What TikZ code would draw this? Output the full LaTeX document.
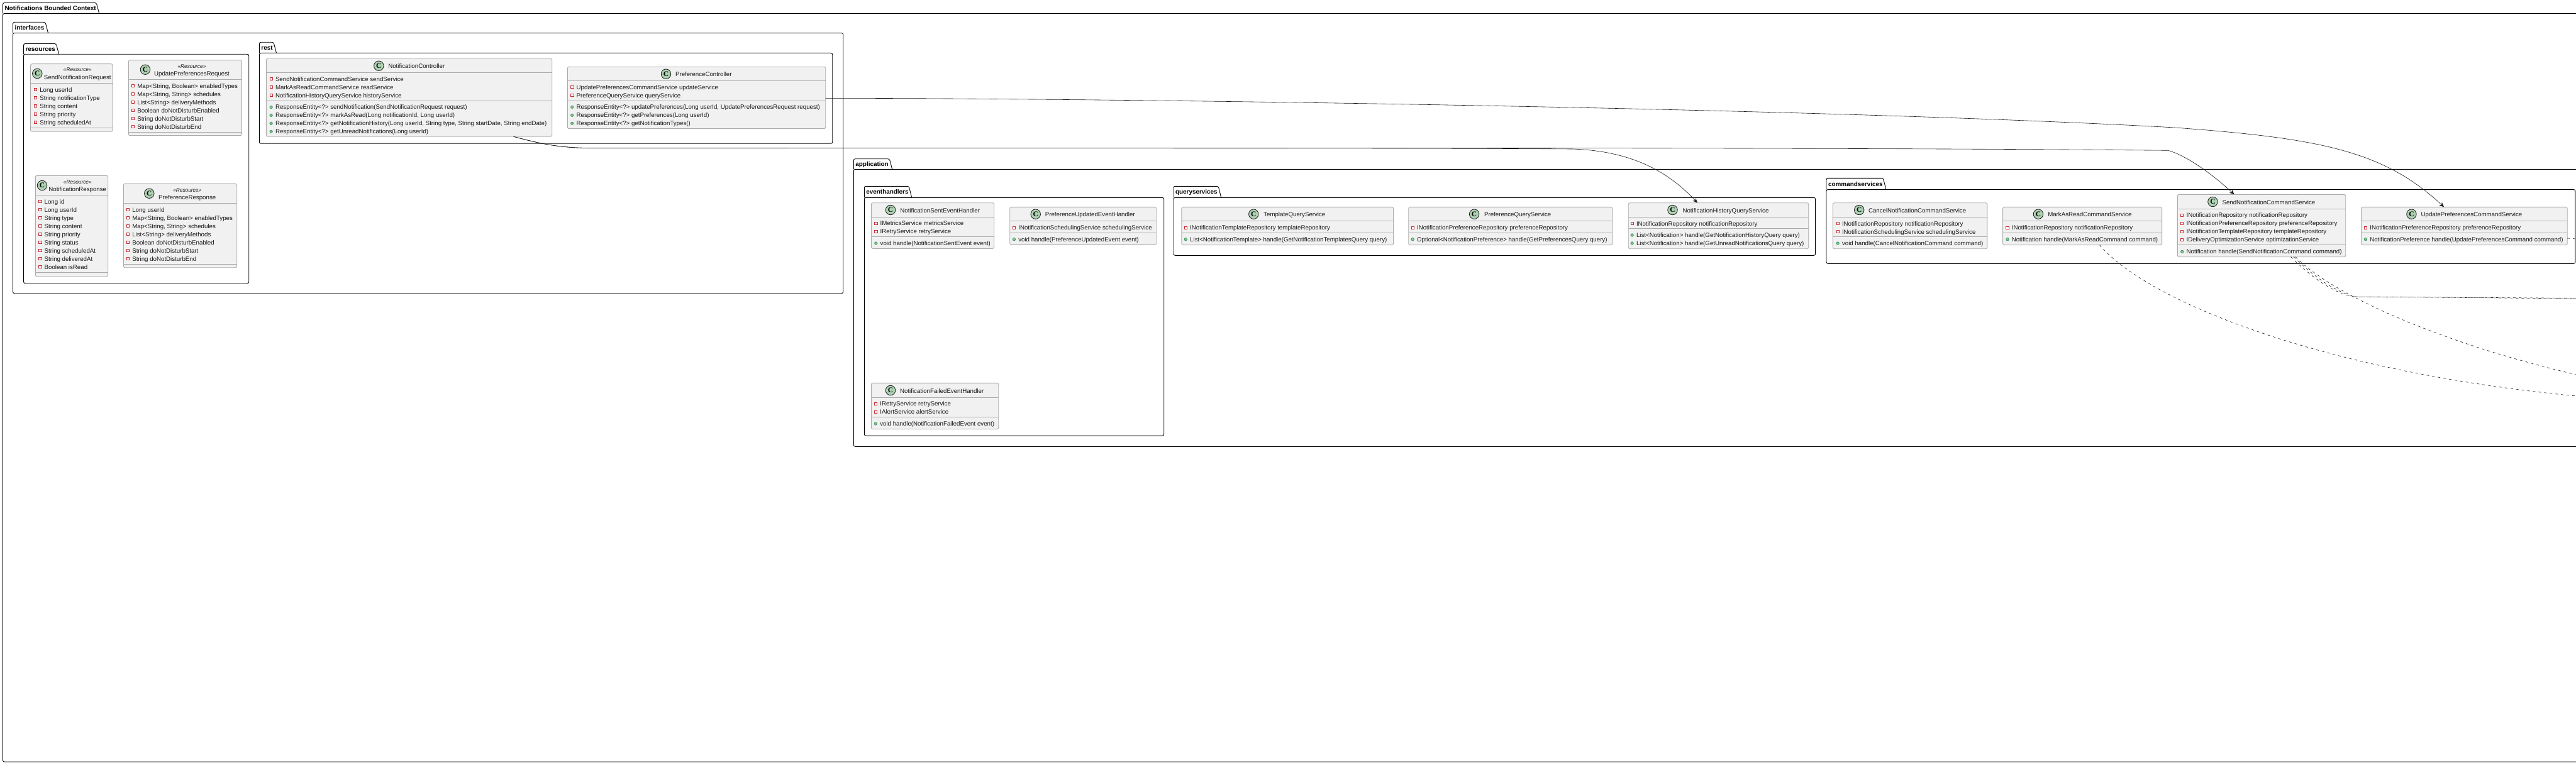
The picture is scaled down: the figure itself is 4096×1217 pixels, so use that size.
\documentclass[tikz,border=0pt]{standalone}
\usepackage{fontspec}
\setmainfont{Liberation Sans}
\newfontfamily\circfont{Liberation Serif}
\usetikzlibrary{arrows.meta}
\definecolor{boxfill}{HTML}{F1F1F1}
\definecolor{boxline}{HTML}{ABABAB}
\definecolor{inkline}{HTML}{181818}
\definecolor{circfill}{HTML}{ADD1B2}
\definecolor{pvline}{HTML}{C82930}
\definecolor{pbfill}{HTML}{84BE84}
\definecolor{pbline}{HTML}{038048}
\tikzset{
  x=1pt,y=-1pt,
  pkgbody/.style={draw=black,line width=0.9pt,rounded corners=2.5pt,inner sep=0,outer sep=0,fill=white},
  pkgtab/.style={draw=black,line width=0.9pt,rounded corners=2.5pt},
  pkgtitle/.style={inner sep=0,outer sep=0,anchor=base west,font=\fontsize{9.9}{12}\selectfont\bfseries},
  clsbody/.style={draw=boxline,line width=0.9pt,fill=boxfill,rounded corners=2.5pt,inner sep=0,outer sep=0},
  clssep/.style={draw=boxline,line width=0.9pt},
  clsname/.style={inner sep=0,outer sep=0,anchor=base,font=\fontsize{9.7}{12}\selectfont,text=inkline},
  clsster/.style={inner sep=0,outer sep=0,anchor=base,font=\fontsize{8.3}{10}\selectfont\itshape,text=inkline},
  circmark/.style={circle,draw=inkline,line width=0.8pt,fill=circfill,minimum size=15.5pt,inner sep=0,outer sep=0,font=\fontsize{11.5}{12}\selectfont\circfont\bfseries},
  rowtext/.style={inner sep=0,outer sep=0,anchor=base west,font=\fontsize{9.7}{12}\selectfont,text=inkline},
  pvmark/.style={rectangle,draw=pvline,line width=0.7pt,fill=white,minimum size=4.2pt,inner sep=0,outer sep=0},
  pbmark/.style={circle,draw=pbline,line width=0.4pt,fill=pbfill,minimum size=4.6pt,inner sep=0,outer sep=0},
  dep/.style={draw=inkline,line width=0.6pt,-{Stealth[length=7.5pt,width=6.5pt,inset=2.5pt]}},
  usedep/.style={draw=inkline,line width=0.6pt,dash pattern=on 4pt off 5pt},
}
% id x1 tabtop tabright rule x2 bottom title
\newcommand\pkgframe[8]{%
  \node[pkgbody,minimum width={(#6-#2)*1pt},minimum height={(#7-#5)*1pt}] (#1) at ({(#2+#6)/2},{(#5+#7)/2}) {};
  \draw[pkgtab] (#2,#5) -- (#2,#3) -- (#4-4.5,#3) -- (#4,#5);
  \node[pkgtitle] (#1-title) at (#2+3.1,{(#3+#5)/2+3.6}) {#8};
}
% id x1 y1 x2 y2 sep1 sep2
\newcommand\clsframe[7]{%
  \node[clsbody,minimum width={(#4-#2)*1pt},minimum height={(#5-#3)*1pt}] (#1) at ({(#2+#4)/2},{(#3+#5)/2}) {};
  \draw[clssep] (#2,#6) -- (#4,#6);
  \draw[clssep] (#2,#7) -- (#4,#7);
}
% id circx circy namecx namey name
\newcommand\clshead[6]{%
  \node[circmark] (#1-circ) at (#2,#3) {C};
  \node[clsname] (#1-name) at (#4,#5+3.5) {#6};
}
% id cx y
\newcommand\clsstereo[3]{%
  \node[clsster] (#1-st) at (#2,#3+3) {«Resource»};
}
% id textx y0 list
\newcommand\pvrows[4]{%
  \foreach \rowtxt [count=\ri] in {#4} {
    \pgfmathsetmacro\ry{#3+13*(\ri-1)}
    \node[pvmark] (#1-pvm\ri) at (#2-6.9,\ry) {};
    \node[rowtext] (#1-pv\ri) at (#2,\ry+3.5) {\rowtxt};
  }%
}
\newcommand\pbrows[4]{%
  \foreach \rowtxt [count=\ri] in {#4} {
    \pgfmathsetmacro\ry{#3+13*(\ri-1)}
    \node[pbmark] (#1-pbm\ri) at (#2-6.9,\ry) {};
    \node[rowtext] (#1-pb\ri) at (#2,\ry+3.5) {\rowtxt};
  }%
}
\begin{document}
\begin{tikzpicture}
\useasboundingbox (0,0) rectangle (4096,1217);
\fill[white] (0,0) rectangle (4096,1217);
\clip (0,0) rectangle (4096,1217);

% packages
\pkgframe{ctx}{4.5}{4.5}{157.7}{21.5}{4300}{1212}{Notifications Bounded Context}
\pkgframe{ifc}{20.5}{35.3}{76.5}{52.5}{1340.7}{466.7}{interfaces}
\pkgframe{res}{37.5}{69.5}{93.7}{86.3}{395.7}{450.7}{resources}
\pkgframe{rst}{412.3}{67.3}{439.5}{84.3}{1323.7}{228.3}{rest}
\pkgframe{app}{1357.3}{252.7}{1418.7}{269.3}{4300}{710.3}{application}
\pkgframe{evh}{1374.3}{296.3}{1449.7}{314.3}{1850.7}{693.3}{eventhandlers}
\pkgframe{qry}{1866}{296.3}{1941.7}{314.3}{2886.6}{406.3}{queryservices}
\pkgframe{cmd}{2904}{283.3}{2998.8}{301.5}{4094.8}{419.3}{commandservices}

% interfaces.resources
\clsframe{snr}{48.5}{101.7}{179.3}{209.3}{132.3}{203.3}
\clshead{snr}{59.3}{117}{123.3}{123.5}{SendNotificationRequest}
\clsstereo{snr}{123.3}{111}
\pvrows{snr}{63.3}{142.7}{Long userId,String notificationType,String content,String priority,String scheduledAt}

\clsframe{upr}{204.3}{95.7}{384.3}{215.7}{126.3}{210.3}
\clshead{upr}{231}{110.7}{305}{117}{UpdatePreferencesRequest}
\clsstereo{upr}{305}{105.3}
\pvrows{upr}{218.3}{136.7}{{Map<String, Boolean> enabledTypes},{Map<String, String> schedules},List<String> deliveryMethods,Boolean doNotDisturbEnabled,String doNotDisturbStart,String doNotDisturbEnd}

\clsframe{nrs}{56.3}{279.3}{171.7}{439.7}{310.3}{433.3}
\clshead{nrs}{67}{295}{123.3}{301.3}{NotificationResponse}
\clsstereo{nrs}{123.3}{289.3}
\pvrows{nrs}{70.7}{320.7}{Long id,Long userId,String type,String content,String priority,String status,String scheduledAt,String deliveredAt,Boolean isRead}

\clsframe{prs}{196.3}{292.3}{376.7}{425.7}{323.3}{420.3}
\clshead{prs}{237.3}{307.7}{297.7}{314}{PreferenceResponse}
\clsstereo{prs}{297.7}{302}
\pvrows{prs}{210.3}{333.7}{Long userId,{Map<String, Boolean> enabledTypes},{Map<String, String> schedules},List<String> deliveryMethods,Boolean doNotDisturbEnabled,String doNotDisturbStart,String doNotDisturbEnd}

% interfaces.rest
\clsframe{nct}{423.3}{93.3}{877.7}{217.3}{115.7}{160.3}
\clshead{nct}{602.3}{104.7}{662.3}{105}{NotificationController}
\pvrows{nct}{438}{125.7}{SendNotificationCommandService sendService,MarkAsReadCommandService readService,NotificationHistoryQueryService historyService}
\pbrows{nct}{438}{170.3}{ResponseEntity<?> sendNotification(SendNotificationRequest request),{ResponseEntity<?> markAsRead(Long notificationId, Long userId)},{ResponseEntity<?> getNotificationHistory(Long userId, String type, String startDate, String endDate)},ResponseEntity<?> getUnreadNotifications(Long userId)}

\clsframe{pct}{902.3}{106.3}{1312.7}{204.7}{128.7}{160.3}
\clshead{pct}{1059}{117.7}{1118.8}{118}{PreferenceController}
\pvrows{pct}{916.7}{138.7}{UpdatePreferencesCommandService updateService,PreferenceQueryService queryService}
\pbrows{pct}{916.7}{170.3}{{ResponseEntity<?> updatePreferences(Long userId, UpdatePreferencesRequest request)},ResponseEntity<?> getPreferences(Long userId),ResponseEntity<?> getNotificationTypes()}

% application.eventhandlers
\clsframe{nse}{1385.3}{322.7}{1580.7}{395.3}{345.3}{376.3}
\clshead{nse}{1416}{334}{1494.7}{334.7}{NotificationSentEventHandler}
\pvrows{nse}{1399.7}{355.3}{IMetricsService metricsService,IRetryService retryService}
\pbrows{nse}{1399.7}{387}{void handle(NotificationSentEvent event)}

\clsframe{pue}{1605.7}{329.3}{1838.7}{389.3}{351.3}{370.3}
\clshead{pue}{1646.7}{340.7}{1733.3}{341}{PreferenceUpdatedEventHandler}
\pvrows{pue}{1619.3}{362}{INotificationSchedulingService schedulingService}
\pbrows{pue}{1619.3}{380.7}{void handle(PreferenceUpdatedEvent event)}

\clsframe{nfe}{1385.3}{609.3}{1587.7}{682.7}{632.3}{663.3}
\clshead{nfe}{1416}{621}{1497.7}{621.7}{NotificationFailedEventHandler}
\pvrows{nfe}{1399.3}{642.3}{IRetryService retryService,IAlertService alertService}
\pbrows{nfe}{1399.3}{674}{void handle(NotificationFailedEvent event)}

% application.queryservices
\clsframe{tqs}{1878.8}{329.3}{2215.6}{389.7}{351.7}{370.7}
\clshead{tqs}{1993.3}{340.7}{2058.3}{341}{TemplateQueryService}
\pvrows{tqs}{1892.2}{362.3}{INotificationTemplateRepository templateRepository}
\pbrows{tqs}{1892.2}{380.7}{List<NotificationTemplate> handle(GetNotificationTemplatesQuery query)}

\clsframe{pqs}{2239.7}{329.3}{2563.8}{389.7}{351.7}{370.7}
\clshead{pqs}{2344.1}{340.7}{2413.2}{341}{PreferenceQueryService}
\pvrows{pqs}{2253.1}{362.3}{INotificationPreferenceRepository preferenceRepository}
\pbrows{pqs}{2253.1}{380.7}{Optional<NotificationPreference> handle(GetPreferencesQuery query)}

\clsframe{hqs}{2589.2}{322.7}{2875.8}{395.7}{345.3}{363.3}
\clshead{hqs}{2659.5}{334}{2744}{334.7}{NotificationHistoryQueryService}
\pvrows{hqs}{2602}{355.7}{INotificationRepository notificationRepository}
\pbrows{hqs}{2602}{374}{List<Notification> handle(GetNotificationHistoryQuery query),List<Notification> handle(GetUnreadNotificationsQuery query)}

% application.commandservices
\clsframe{ccs}{2914.4}{322.7}{3159.8}{395.7}{345.3}{376.3}
\clshead{ccs}{2956.2}{334}{3048.6}{334.7}{CancelNotificationCommandService}
\pvrows{ccs}{2929}{355.7}{INotificationRepository notificationRepository,INotificationSchedulingService schedulingService}
\pbrows{ccs}{2929}{387}{void handle(CancelNotificationCommand command)}

\clsframe{mrs}{3184.6}{329.3}{3437.6}{389.7}{351.7}{370.7}
\clshead{mrs}{3240.9}{340.7}{3322.8}{341}{MarkAsReadCommandService}
\pvrows{mrs}{3198.8}{362}{INotificationRepository notificationRepository}
\pbrows{mrs}{3198.8}{380.7}{Notification handle(MarkAsReadCommand command)}

\clsframe{scs}{3462.4}{309.3}{3729.7}{408.7}{332.3}{389.3}
\clshead{scs}{3518.4}{321}{3607.4}{321.7}{SendNotificationCommandService}
\pvrows{scs}{3476.6}{342.3}{INotificationRepository notificationRepository,INotificationPreferenceRepository preferenceRepository,INotificationTemplateRepository templateRepository,IDeliveryOptimizationService optimizationService}
\pbrows{scs}{3476.6}{400.3}{Notification handle(SendNotificationCommand command)}

\clsframe{ups}{3754.5}{329.3}{4082.2}{389.7}{351.7}{370.7}
\clshead{ups}{3834.4}{340.7}{3929.9}{341}{UpdatePreferencesCommandService}
\pvrows{ups}{3768.3}{362}{INotificationPreferenceRepository preferenceRepository}
\pbrows{ups}{3768.3}{380.7}{NotificationPreference handle(UpdatePreferencesCommand command)}

% free ends at the picture's right edge
\coordinate (offA) at (4096,630);
\coordinate (offB) at (4096,596);
\coordinate (offC) at (4096,475);
\coordinate (offD) at (4096,474.4);
\coordinate (offE) at (4096,380);

% solid dependencies
\draw[dep] ([xshift=393.4pt]nct.south west) .. controls (860,229) and (890,235) .. (935,235.5)
  .. controls (1500,236) and (2200,235) .. (2500,237)
  .. controls (2590,240) and (2650,270) .. ([xshift=109.8pt]hqs.north west);
\draw[dep] ([xshift=393.4pt]nct.south west) .. controls (860,229) and (890,235) .. (935,235.5)
  .. controls (1800,235.5) and (2900,234) .. (3447,239.3)
  .. controls (3470,245) and (3510,270) .. ([xshift=90.1pt]scs.north west);
\draw[dep] (pct.east |- 0,156.3) .. controls (1800,156.5) and (2900,172) .. (3458,203)
  .. controls (3690,220) and (3790,240) .. ([xshift=131.5pt]ups.north west);

% dashed dependencies
\draw[usedep] ([xshift=153.9pt]mrs.south west) .. controls (3410,475) and (3680,590) .. (offA);
\draw[usedep] ([xshift=187.6pt]scs.south west) .. controls (3710,470) and (3880,545) .. (offB);
\draw[usedep] ([xshift=180.1pt]scs.south west) .. controls (3680,445) and (3710,465) .. (3741,472) -- (offC);
\draw[usedep] ([xshift=184.6pt]scs.south west) .. controls (3685,445) and (3715,465) .. (3746,472) -- (offD);
\draw[usedep] (ups.east |- 0,379) -- (offE);
\end{tikzpicture}
\end{document}
